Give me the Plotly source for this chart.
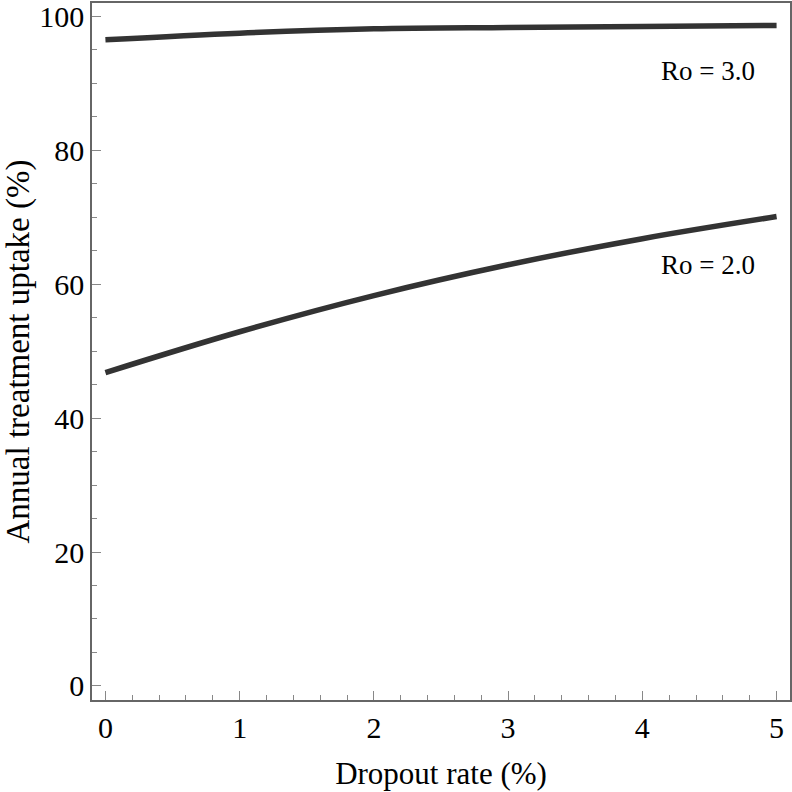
import plotly.graph_objects as go

dropout = [0, 1, 2, 3, 4, 5]
uptake_ro3 = [96.5, 97.5, 98.15, 98.35, 98.5, 98.65]
uptake_ro2 = [46.8, 52.9, 58.3, 62.9, 66.8, 70.1]
labels = ["Ro = 3.0", "Ro = 2.0"]
label_x = [4.49, 4.49]
label_y = [91.9, 62.8]

SERIF = "Liberation Serif"

fig = go.Figure()
for ys in (uptake_ro3, uptake_ro2):
    fig.add_trace(go.Scatter(x=dropout, y=ys, mode="lines",
                             line=dict(color="#333333", width=5.5, shape="spline"),
                             showlegend=False))

for txt, lx, ly in zip(labels, label_x, label_y):
    fig.add_annotation(x=lx, y=ly, text=txt, showarrow=False,
                       font=dict(family=SERIF, size=27, color="black"))

axis_common = dict(showline=True, linecolor="#666666", linewidth=1.5, mirror=True,
                   showgrid=False, zeroline=False, ticks="inside", ticklen=9,
                   tickcolor="#888888", tickwidth=1.2, automargin=False,
                   ticklabeloverflow="allow",
                   tickfont=dict(family=SERIF, size=30, color="black"))

fig.update_xaxes(range=[-0.1, 5.1], tickmode="array", tickvals=[0, 1, 2, 3, 4, 5],
                 minor=dict(ticks="inside", dtick=0.2, ticklen=5, tickcolor="#888888"),
                 title=dict(text="Dropout rate (%)", standoff=20,
                            font=dict(family=SERIF, size=31, color="black")),
                 **axis_common)
fig.update_yaxes(range=[-2.1, 102], tickmode="array", tickvals=[0, 20, 40, 60, 80, 100],
                 minor=dict(ticks="inside", dtick=5, ticklen=5, tickcolor="#888888"),
                 title=dict(text="Annual treatment uptake (%)", standoff=16,
                            font=dict(family=SERIF, size=33, color="black")),
                 **axis_common)

fig.update_layout(width=792, height=792, margin=dict(l=92, r=2, t=3, b=92),
                  plot_bgcolor="white", paper_bgcolor="white")
fig.write_html("out.html", config={"displayModeBar": False},
               post_script="document.body.style.margin='0';")
